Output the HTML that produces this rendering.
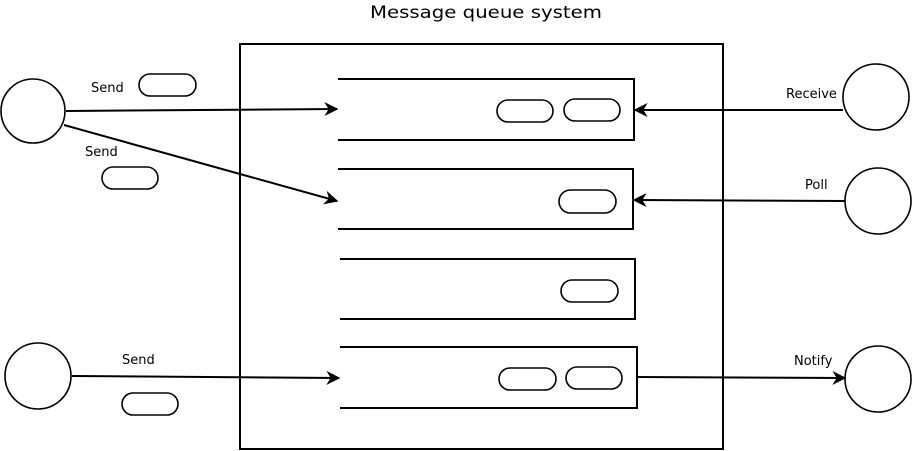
<!DOCTYPE html>
<html><head><meta charset="utf-8"><style>html,body{margin:0;padding:0;background:#fff}svg{display:block}</style></head>
<body>
<svg width="912" height="451" viewBox="0 0 912 451" xmlns="http://www.w3.org/2000/svg" font-family="DejaVu Sans, Liberation Sans, sans-serif">
<defs>
<marker id="a" viewBox="0 0 10 10" refX="9" refY="5" markerWidth="14" markerHeight="14" markerUnits="userSpaceOnUse" orient="auto">
<path d="M0,0 L10,5 L0,10 L3,5 Z" fill="#000"/>
</marker>
</defs>
<g fill="none" stroke="#000" stroke-width="2">
<text x="486" y="18" font-size="17" text-anchor="middle" fill="#000" stroke="none" textLength="232" lengthAdjust="spacingAndGlyphs">Message queue system</text>
<rect x="240" y="44" width="483" height="405"/>
<path d="M338,79 H634 V140 H338"/>
<path d="M338,169 H633 V229 H338"/>
<path d="M340,259 H635 V319 H340"/>
<path d="M340,347 H637 V408 H340"/>
<g stroke-width="1.6">
<rect x="497" y="100" width="56" height="22" rx="11"/>
<rect x="564" y="99" width="56" height="22" rx="11"/>
<rect x="559" y="190" width="57" height="23" rx="11.5"/>
<rect x="561" y="280" width="57" height="22" rx="11"/>
<rect x="499" y="368" width="57" height="22" rx="11"/>
<rect x="566" y="367" width="56" height="22" rx="11"/>
<rect x="139" y="74" width="57" height="22" rx="11"/>
<rect x="102" y="167" width="56" height="22" rx="11"/>
<rect x="122" y="393" width="56" height="22" rx="11"/>
<circle cx="33" cy="111" r="32"/>
<ellipse cx="38" cy="376" rx="33" ry="33"/>
<circle cx="876" cy="97" r="33"/>
<circle cx="878" cy="201" r="33"/>
<circle cx="878" cy="379" r="33"/>
</g>
<line x1="66" y1="111" x2="337" y2="109" marker-end="url(#a)"/>
<line x1="64" y1="125" x2="337" y2="201" marker-end="url(#a)"/>
<line x1="72" y1="376" x2="339" y2="378" marker-end="url(#a)"/>
<line x1="843" y1="110" x2="635" y2="110" marker-end="url(#a)"/>
<line x1="845" y1="201" x2="634" y2="200" marker-end="url(#a)"/>
<line x1="637" y1="377" x2="845" y2="378" marker-end="url(#a)"/>
</g>
<g font-size="13" fill="#000">
<text x="91" y="92">Send</text>
<text x="85" y="156">Send</text>
<text x="122" y="364">Send</text>
<text x="786" y="98">Receive</text>
<text x="805" y="189">Poll</text>
<text x="794" y="365">Notify</text>
</g>
</svg>
</body></html>
